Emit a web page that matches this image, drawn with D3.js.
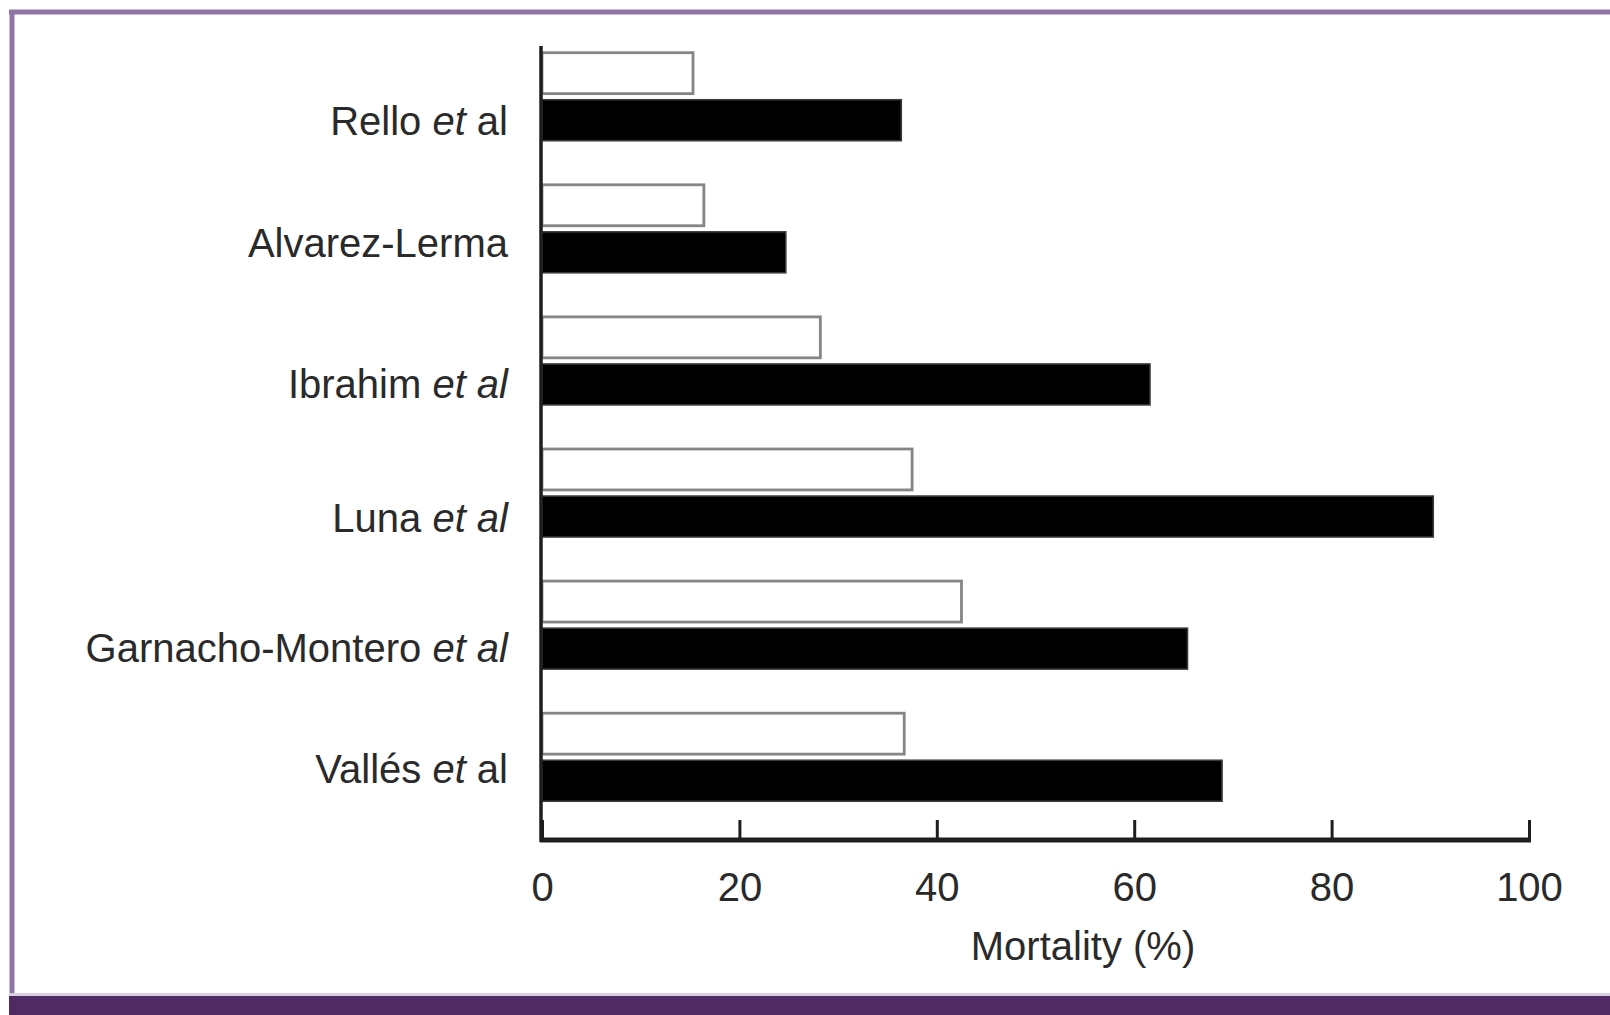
<!DOCTYPE html>
<html>
<head>
<meta charset="utf-8">
<script src="https://cdn.jsdelivr.net/npm/d3@7"></script>
<style>
  html, body { margin: 0; padding: 0; background: #fff; }
  svg { display: block; }
  text { font-family: "Liberation Sans", Arial, Helvetica, sans-serif; fill: #2a2a2a; }
</style>
</head>
<body>
<svg id="chart" width="1610" height="1015"></svg>
<script>
// Studies, in order from top to bottom
const studies = ["Rello", "Alvarez-Lerma", "Ibrahim", "Luna", "Garnacho-Montero", "Vallés"];
// Label pieces: [plain name, italic part, trailing upright part]
const labelParts = [
  ["Rello ", "et", " al"],
  ["Alvarez-Lerma", "", ""],
  ["Ibrahim ", "et al", ""],
  ["Luna ", "et al", ""],
  ["Garnacho-Montero ", "et al", ""],
  ["Vallés ", "et", " al"]
];
const seriesNames = ["Appropriate therapy", "Inappropriate therapy"];
// Mortality (%) per study
const appropriate   = [15.3, 16.4, 28.2, 37.5, 42.5, 36.7];
const inappropriate = [36.4, 24.7, 61.6, 90.3, 65.4, 68.9];
const xTicks = [0, 20, 40, 60, 80, 100];
const xTitle = "Mortality (%)";

// Small vertical label adjustments (px) from the second bar's centre line
const labelNudge = [1, -9, 0, 1, -1, -12];

const svg = d3.select("#chart");
const W = 1610, H = 1015;

// Frame: purple outline and dark footer band
svg.append("rect").attr("x", 0).attr("y", 0).attr("width", W).attr("height", H).attr("fill", "#fff");
svg.append("line").attr("x1", 9).attr("x2", W).attr("y1", 12).attr("y2", 12)
  .attr("stroke", "#8d76a6").attr("stroke-width", 5);
svg.append("line").attr("x1", 12).attr("x2", 12).attr("y1", 10).attr("y2", 996)
  .attr("stroke", "#8d76a6").attr("stroke-width", 5);
svg.append("rect").attr("x", 9).attr("y", 993).attr("width", W - 9).attr("height", 4).attr("fill", "#d8cfe0");
svg.append("rect").attr("x", 9).attr("y", 996).attr("width", W - 9).attr("height", H - 996).attr("fill", "#4f2a63");

// Scales
const x = d3.scaleLinear().domain([0, 100]).range([542, 1529]);
const y = d3.scaleBand().domain(studies).range([45.7, 838.3]).paddingInner(0).paddingOuter(0);
const ySub = d3.scaleBand().domain(seriesNames).range([7, 95]).paddingInner(0.13);

const rows = studies.map((s, i) => ({
  study: s,
  parts: labelParts[i],
  nudge: labelNudge[i],
  values: [
    { key: seriesNames[0], v: appropriate[i] },
    { key: seriesNames[1], v: inappropriate[i] }
  ]
}));

// Bars
const groups = svg.append("g").selectAll("g").data(rows).join("g")
  .attr("transform", d => `translate(0,${y(d.study)})`);

groups.selectAll("rect").data(d => d.values).join("rect")
  .attr("x", x(0))
  .attr("y", d => ySub(d.key))
  .attr("width", d => x(d.v) - x(0))
  .attr("height", ySub.bandwidth())
  .attr("fill", d => d.key === seriesNames[0] ? "#fff" : "#000")
  .attr("stroke", d => d.key === seriesNames[0] ? "#858585" : "#3a3a3a")
  .attr("stroke-width", d => d.key === seriesNames[0] ? 2.8 : 1.6);

// Category labels, next to the second bar of each group
const labels = svg.append("g").selectAll("text").data(rows).join("text")
  .attr("x", 508)
  .attr("y", d => y(d.study) + ySub(seriesNames[1]) + ySub.bandwidth() / 2 + d.nudge)
  .attr("dy", "0.35em")
  .attr("text-anchor", "end")
  .attr("font-size", 40);
labels.append("tspan").text(d => d.parts[0]);
labels.append("tspan").attr("font-style", "italic").text(d => d.parts[1]);
labels.append("tspan").text(d => d.parts[2]);

// X axis with inward ticks
const xAxis = d3.axisBottom(x).tickValues(xTicks).tickFormat(d3.format("d"))
  .tickSizeInner(-20).tickSizeOuter(0).tickPadding(33);
const gx = svg.append("g").attr("transform", "translate(0,840)").call(xAxis);
gx.select(".domain").attr("stroke", "#1e1e1e").attr("stroke-width", 5)
  .attr("d", `M${x(0) - 2},0H${x(100) + 2}`);
gx.selectAll(".tick line").attr("stroke", "#1e1e1e").attr("stroke-width", 3);
gx.selectAll(".tick text").attr("font-size", 40)
  .attr("font-family", "'Liberation Sans', Arial, sans-serif").attr("fill", "#2a2a2a");

// Y axis line
svg.append("line")
  .attr("x1", x(0) - 1).attr("x2", x(0) - 1)
  .attr("y1", 46).attr("y2", 842)
  .attr("stroke", "#1e1e1e").attr("stroke-width", 3.5);

// Axis title
svg.append("text")
  .attr("x", 1083).attr("y", 960)
  .attr("text-anchor", "middle")
  .attr("font-size", 40)
  .text(xTitle);
</script>
</body>
</html>
